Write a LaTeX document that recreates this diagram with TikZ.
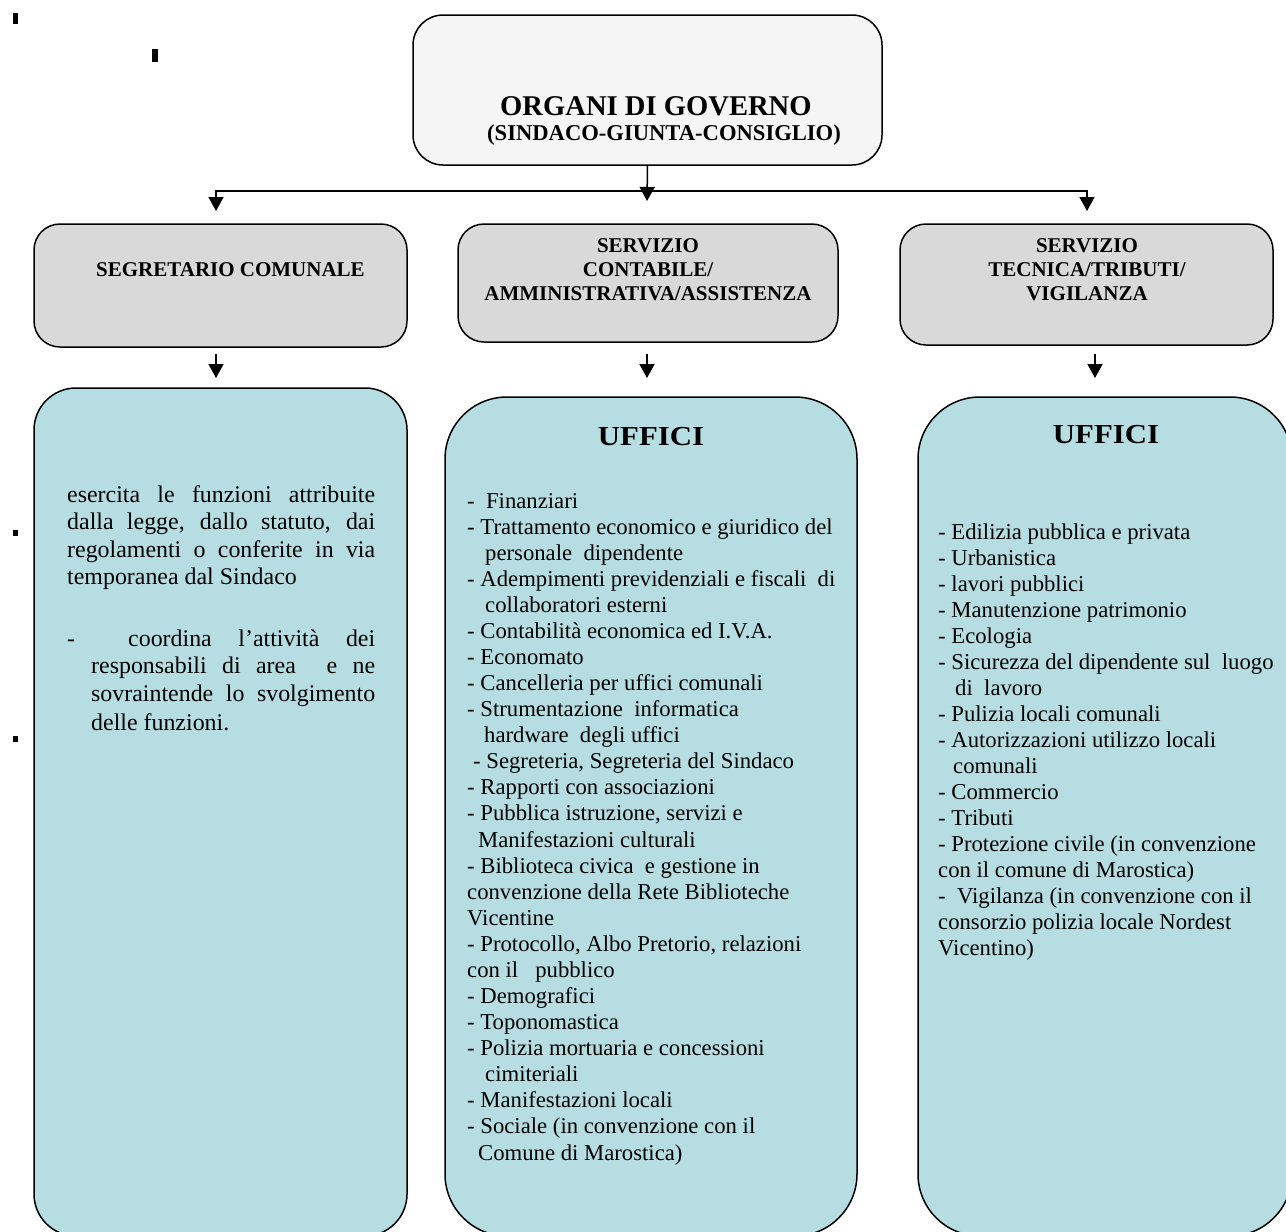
\documentclass[tikz,border=0pt]{standalone}
\usepackage{fontspec}
\setmainfont{Liberation Serif}
\newfontfamily\ufffont[FakeStretch=1.12]{Liberation Serif}
\usetikzlibrary{arrows.meta}
\definecolor{cyanbox}{RGB}{182,221,226}
\definecolor{graybox}{RGB}{217,217,217}
\definecolor{topbox}{RGB}{245,245,245}
\tikzset{
  box/.style={draw=black, line width=1.5pt, inner sep=0pt},
  arr/.style={line width=1.5pt, -{Triangle[width=15pt,length=14pt]}},
  body/.style={font=\fontsize{22.7}{26.1}\selectfont, anchor=base west, inner sep=0pt},
  lbody/.style={font=\fontsize{23.9}{27.4}\selectfont, anchor=base west, inner sep=0pt},
  head/.style={font=\bfseries\fontsize{21}{24}\selectfont, anchor=base, inner sep=0pt},
  uff/.style={font=\ufffont\bfseries\fontsize{27.5}{30}\selectfont, anchor=base, inner sep=0pt},
  straymark/.style={fill=black}
}
\begin{document}
\begin{tikzpicture}[x=1pt,y=-1pt]
\useasboundingbox (0,0) rectangle (1286,1232);
\clip (0,0) rectangle (1286,1232);

% stray marks
\fill[straymark] (13,13) rectangle (18,24);
\fill[straymark] (152,49) rectangle (158,62);
\fill[straymark] (13,530) rectangle (18,536);
\fill[straymark] (13,736) rectangle (18,742);

% top box
\node[box, fill=topbox, rounded corners=30pt, minimum width=469pt, minimum height=150pt] (top) at (647.5,90) {};
\node[font=\bfseries\fontsize{28.6}{32}\selectfont, anchor=base west, inner sep=0pt] (t1) at (500,115) {ORGANI DI GOVERNO};
\node[font=\bfseries\fontsize{22.6}{26}\selectfont, anchor=base west, inner sep=0pt] (t2) at (487,140) {(SINDACO-GIUNTA-CONSIGLIO)};

% gray boxes
\node[box, fill=graybox, rounded corners=26pt, minimum width=373pt, minimum height=123pt] (gl) at (220.5,285.5) {};
\node[box, fill=graybox, rounded corners=26pt, minimum width=380pt, minimum height=118pt] (gm) at (648,283) {};
\node[box, fill=graybox, rounded corners=26pt, minimum width=373pt, minimum height=121pt] (gr) at (1086.5,284.5) {};

\node[head, anchor=base west] (gl1) at (96,276) {SEGRETARIO COMUNALE};
\node[head] (gm1) at (648,252) {SERVIZIO};
\node[head] (gm2) at (648,276) {CONTABILE/};
\node[head] (gm3) at (648,300) {AMMINISTRATIVA/ASSISTENZA};
\node[head] (gr1) at (1087,252) {SERVIZIO};
\node[head] (gr2) at (1087,276) {TECNICA/TRIBUTI/};
\node[head] (gr3) at (1087,300) {VIGILANZA};

% cyan boxes
\node[box, fill=cyanbox, rounded corners=42pt, minimum width=373pt, minimum height=848pt] (cl) at (220.5,812) {};
\node[box, fill=cyanbox, rounded corners=62pt, minimum width=412pt, minimum height=839pt] (cm) at (651,816.5) {};
\node[box, fill=cyanbox, rounded corners=62pt, minimum width=374pt, minimum height=839pt] (cr) at (1105,816.5) {};

% connectors
\coordinate (tm) at (647,201);
\coordinate (j) at (647,191);
\coordinate (tl) at (216,211);
\coordinate (tr) at (1087,211);
\draw[arr] (top.south) -- (tm);
\draw[arr] (j) -| (tl);
\draw[arr] (j) -| (tr);
\coordinate (s1) at (216,354); \coordinate (e1) at (216,378);
\coordinate (s2) at (647,354); \coordinate (e2) at (647,378);
\coordinate (s3) at (1095,354); \coordinate (e3) at (1095,378);
\draw[arr] (s1) -- (e1);
\draw[arr] (s2) -- (e2);
\draw[arr] (s3) -- (e3);

% left box text
\node[lbody] (l1) at (67,502) {\makebox[308pt][s]{esercita le funzioni attribuite}};
\node[lbody] (l2) at (67,529.5) {\makebox[308pt][s]{dalla legge, dallo statuto, dai}};
\node[lbody] (l3) at (67,557) {\makebox[308pt][s]{regolamenti o conferite in via}};
\node[lbody] (l4) at (67,584) {temporanea dal Sindaco};
\node[lbody] (l5a) at (67,646) {-};
\node[lbody] (l5) at (128,646) {\makebox[247pt][s]{coordina l’attività dei}};
\node[lbody] (l6) at (91,673) {\makebox[284pt][s]{responsabili di area \ e ne}};
\node[lbody] (l7) at (91,701) {\makebox[284pt][s]{sovraintende lo svolgimento}};
\node[lbody] (l8) at (91,730) {delle funzioni.};

% middle box
\node[uff] (u1) at (651,445) {UFFICI};
\node[body] (m1) at (467,508) {- \ Finanziari};
\node[body] (m2) at (467,534.08) {- Trattamento economico e giuridico del};
\node[body] (m3) at (485,560.16) {personale \ dipendente};
\node[body] (m4) at (467,586.24) {- Adempimenti previdenziali e fiscali \ di};
\node[body] (m5) at (485,612.32) {collaboratori esterni};
\node[body] (m6) at (467,638.4) {- Contabilità economica ed I.V.A.};
\node[body] (m7) at (467,664.48) {- Economato};
\node[body] (m8) at (467,690.56) {- Cancelleria per uffici comunali};
\node[body] (m9) at (467,716.64) {- Strumentazione \ informatica};
\node[body] (m10) at (484,742.72) {hardware \ degli uffici};
\node[body] (m11) at (473,768.8) {- Segreteria, Segreteria del Sindaco};
\node[body] (m12) at (467,794.88) {- Rapporti con associazioni};
\node[body] (m13) at (467,820.96) {- Pubblica istruzione, servizi e};
\node[body] (m14) at (478,847.04) {Manifestazioni culturali};
\node[body] (m15) at (467,873.12) {- Biblioteca civica \ e gestione in};
\node[body] (m16) at (467,899.2) {convenzione della Rete Biblioteche};
\node[body] (m17) at (467,925.28) {Vicentine};
\node[body] (m18) at (467,951.36) {- Protocollo, Albo Pretorio, relazioni};
\node[body] (m19) at (467,977.44) {con il \ \ pubblico};
\node[body] (m20) at (467,1003.52) {- Demografici};
\node[body] (m21) at (467,1029.6) {- Toponomastica};
\node[body] (m22) at (467,1055.68) {- Polizia mortuaria e concessioni};
\node[body] (m23) at (485,1081.76) {cimiteriali};
\node[body] (m24) at (467,1107.84) {- Manifestazioni locali};
\node[body] (m25) at (467,1133.92) {- Sociale (in convenzione con il};
\node[body] (m26) at (478,1160) {Comune di Marostica)};

% right box
\node[uff] (u2) at (1106,443) {UFFICI};
\node[body] (r1) at (938,539) {- Edilizia pubblica e privata};
\node[body] (r2) at (938,565) {- Urbanistica};
\node[body] (r3) at (938,591) {- lavori pubblici};
\node[body] (r4) at (938,617) {- Manutenzione patrimonio};
\node[body] (r5) at (938,643) {- Ecologia};
\node[body] (r6) at (938,669) {- Sicurezza del dipendente sul \ luogo};
\node[body] (r7) at (955,695) {di \ lavoro};
\node[body] (r8) at (938,721) {- Pulizia locali comunali};
\node[body] (r9) at (938,747) {- Autorizzazioni utilizzo locali};
\node[body] (r10) at (953,773) {comunali};
\node[body] (r11) at (938,799) {- Commercio};
\node[body] (r12) at (938,825) {- Tributi};
\node[body] (r13) at (938,851) {- Protezione civile (in convenzione};
\node[body] (r14) at (938,877) {con il comune di Marostica)};
\node[body] (r15) at (938,903) {- \ Vigilanza (in convenzione con il};
\node[body] (r16) at (938,929) {consorzio polizia locale Nordest};
\node[body] (r17) at (938,955) {Vicentino)};
\end{tikzpicture}
\end{document}
